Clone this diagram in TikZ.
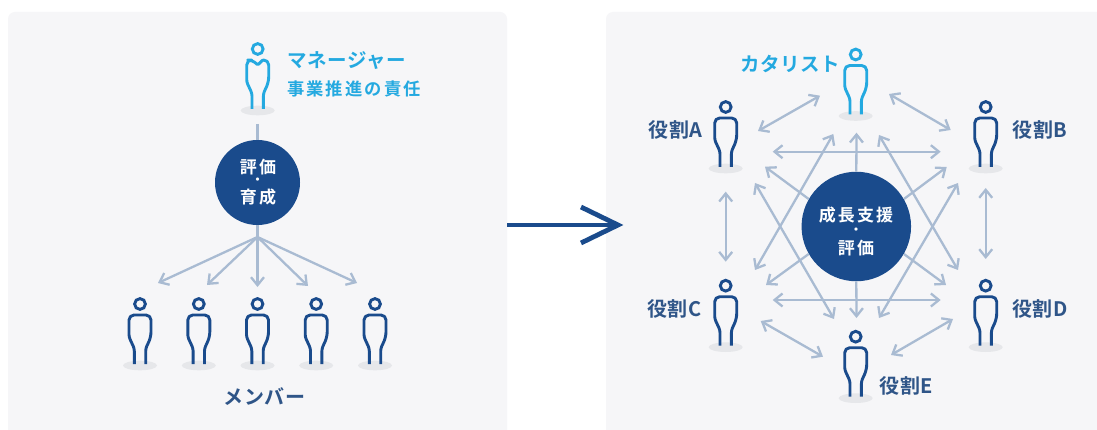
\documentclass[tikz,border=0pt]{standalone}
\usepackage{fontspec}
\usetikzlibrary{arrows.meta}
\newfontfamily\jpfont[LetterSpace=3]{Noto Sans CJK JP Bold}
\newfontfamily\jpwide[LetterSpace=12]{Noto Sans CJK JP Bold}
\definecolor{panelbg}{HTML}{F6F6F8}
\definecolor{navy}{HTML}{1A4B8C}
\definecolor{labelnavy}{HTML}{2F5588}
\definecolor{skyblue}{HTML}{24A9E0}
\definecolor{linkblue}{HTML}{A9BBD2}
\definecolor{floorgrey}{HTML}{E6E7EA}
\tikzset{
  x=1pt,y=-1pt,
  panel/.style={fill=panelbg,draw=none,rounded corners=7pt},
  hub/.style={circle,fill=navy,draw=none,inner sep=0pt},
  hubtext/.style={inner sep=0pt,text=white,font=\jpwide\fontsize{17}{17}\selectfont},
  hubdot/.style={inner sep=0pt,text=white,font=\jpfont\fontsize{13}{13}\selectfont},
  rolelabel/.style={inner sep=0pt,text=labelnavy,font=\jpfont\fontsize{20}{20}\selectfont},
  leadlabel/.style={inner sep=0pt,text=skyblue,font=\jpfont\fontsize{19.5}{19.5}\selectfont},
  leadsub/.style={inner sep=0pt,text=skyblue,font=\jpwide\fontsize{17.3}{17.3}\selectfont},
  link/.style={draw=linkblue,line width=2.3pt},
  oneway/.style={link,-{Straight Barb[length=8pt,width=13pt,line width=2.3pt]}},
  twoway/.style={link,{Straight Barb[length=8pt,width=13pt,line width=2.3pt]}-{Straight Barb[length=8pt,width=13pt,line width=2.3pt]}},
  figure line/.style={line width=2.9pt,line join=round,line cap=butt},
}
% head centre at #1,#2; colour #3
\newcommand{\personicon}[3]{%
  \begin{scope}[shift={(#1,#2)}]
    \fill[floorgrey] (0,61.5) ellipse[x radius=17,y radius=4.8];
    \draw[#3,line width=2.9pt] (0,0) circle[radius=5.4];
    \draw[#3,figure line,rounded corners=2.5pt]
      (-5.7,60) -- (-5.7,44.5) -- (-11,33) [rounded corners=5pt]
      -- (-11,11) -- (11,11) -- (11,33) [rounded corners=2.5pt]
      -- (5.7,44.5) -- (5.7,60);
  \end{scope}}
\newcommand{\managericon}[3]{%
  \begin{scope}[shift={(#1,#2)}]
    \fill[floorgrey] (0,61.5) ellipse[x radius=17,y radius=4.8];
    \draw[#3,line width=2.9pt] (0,0) circle[radius=5.4];
    \draw[#3,figure line,rounded corners=2.5pt]
      (-5.7,60) -- (-5.7,44.5) -- (-11,33) [rounded corners=5pt]
      -- (-11,11) -- (-5,11) [rounded corners=1pt] -- (0,16) -- (5,11) [rounded corners=5pt] -- (11,11) -- (11,33) [rounded corners=2.5pt]
      -- (5.7,44.5) -- (5.7,60);
  \end{scope}}
\begin{document}
\begin{tikzpicture}
\useasboundingbox (0,0) rectangle (1097,430);
\fill[white] (0,0) rectangle (1097,430);
% panels
\fill[panel] (8,12) rectangle (507,445);
\fill[panel] (606,12) rectangle (1110,445);

%%% left panel
\coordinate (mgrfoot) at (257.5,124);
\coordinate (fan) at (257.5,237);
\coordinate (m1) at (158,283);
\coordinate (m2) at (207,285);
\coordinate (m3) at (257.5,287);
\coordinate (m4) at (308,286);
\coordinate (m5) at (357,283);
\node[hub,minimum size=85pt] (lefthub) at (257.5,182.5) {};
\draw[link] (mgrfoot) -- (lefthub.north);
\draw[link] (lefthub.south) -- (fan);
\foreach \t in {m1,m2,m3,m4,m5} \draw[oneway] (fan) -- (\t);
\managericon{257.7}{49}{skyblue}
\foreach \x in {140,198.8,257.5,316.2,375} {\personicon{\x}{304}{navy}}
\node[leadlabel,anchor=west] (mgrname) at (287,61) {マネージャー};
\node[leadsub,anchor=west] (mgrduty) at (287,89) {事業推進の責任};
\node[hubtext] (lefttop) at (258,167) {評価};
\node[hubdot] (leftdot) at (257.5,181.5) {・};
\node[hubtext] (leftbot) at (258,197) {育成};
\node[rolelabel] (memberlabel) at (264.5,397) {メンバー};

%%% transition arrow
\coordinate (shiftfrom) at (507,225);
\coordinate (shiftto) at (618,225);
\coordinate (shiftup) at (581,207);
\coordinate (shiftdown) at (581,243);
\draw[navy,line width=4.8pt] (shiftfrom) -- (shiftto);
\draw[navy,line width=4.8pt,miter limit=10] (shiftup) -- (shiftto) -- (shiftdown);

%%% right panel links
\coordinate (ca) at (820,95.7);   \coordinate (ac) at (758,131);
\coordinate (cb) at (889,94);     \coordinate (bc) at (950.7,130);
\coordinate (ad) at (725.7,191.7);\coordinate (da) at (725.7,261.7);
\coordinate (be) at (985.7,188);  \coordinate (eb) at (985.7,259);
\coordinate (ce) at (760.7,321);  \coordinate (ec) at (823,356.7);
\coordinate (de) at (953,319);    \coordinate (ed) at (891,355);
\coordinate (tl) at (772.7,151.7);\coordinate (tr) at (940.7,151.7);
\coordinate (bl) at (772.7,300);  \coordinate (br) at (940.7,300);
\coordinate (up) at (856.5,132.7);\coordinate (dn) at (856.5,318);
\coordinate (ha) at (765,166.7);  \coordinate (hb) at (946.7,167);
\coordinate (hc) at (766,285);    \coordinate (hd) at (946,285);
\coordinate (d1a) at (833.3,134); \coordinate (d1b) at (755,270);
\coordinate (d2a) at (755,183);   \coordinate (d2b) at (834,319);
\coordinate (d3a) at (879,135);   \coordinate (d3b) at (958,270);
\coordinate (d4a) at (958,183);   \coordinate (d4b) at (879,318);
\draw[twoway] (ca) -- (ac);
\draw[twoway] (cb) -- (bc);
\draw[twoway] (ad) -- (da);
\draw[twoway] (be) -- (eb);
\draw[twoway] (ce) -- (ec);
\draw[twoway] (de) -- (ed);
\draw[twoway] (tl) -- (tr);
\draw[twoway] (bl) -- (br);
\draw[twoway] (d1a) -- (d1b);
\draw[twoway] (d2a) -- (d2b);
\draw[twoway] (d3a) -- (d3b);
\draw[twoway] (d4a) -- (d4b);
\node[hub,minimum size=109.5pt] (righthub) at (856.3,226.5) {};
\foreach \t/\a in {up/90,dn/270,ha/150,hb/30,hc/210,hd/330} \draw[oneway] (righthub.\a) -- (\t);
\node[hubtext] (righttop) at (856,215) {成長支援};
\node[hubdot] (rightdot) at (856,231) {・};
\node[hubtext] (rightbot) at (856,248) {評価};

\personicon{855.7}{54.5}{skyblue}
\personicon{725.7}{107}{navy}
\personicon{985.7}{107}{navy}
\personicon{725.7}{285.7}{navy}
\personicon{985.7}{285.7}{navy}
\personicon{855.7}{336.7}{navy}
\node[leadlabel] (catalyst) at (790.5,64) {カタリスト};
\node[rolelabel] (rolea) at (675.5,130) {役割A};
\node[rolelabel] (roleb) at (1040,130) {役割B};
\node[rolelabel] (rolec) at (674.5,309) {役割C};
\node[rolelabel] (roled) at (1040,309) {役割D};
\node[rolelabel] (rolee) at (906.5,386) {役割E};
\end{tikzpicture}
\end{document}
